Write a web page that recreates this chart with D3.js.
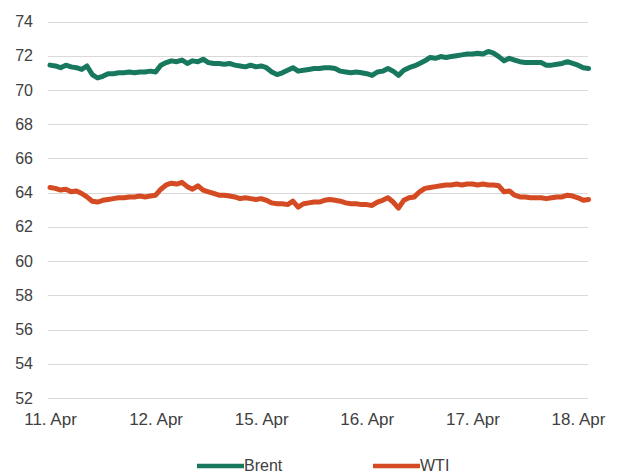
<!DOCTYPE html>
<html>
<head>
<meta charset="utf-8">
<script src="https://cdn.jsdelivr.net/npm/d3@7"></script>
<style>
  html, body { margin: 0; padding: 0; background: #fff; }
  svg { display: block; }
  text { font-family: "Liberation Sans", Arial, sans-serif; fill: #404040; }
</style>
</head>
<body>
<svg id="chart" width="623" height="476"></svg>
<script>
// Trading sessions shown on the x axis (0 = 11 Apr open)
const dayLabels = ["11. Apr", "12. Apr", "15. Apr", "16. Apr", "17. Apr", "18. Apr"];
const dayPositions = [0, 1, 2, 3, 4, 5];
// Intraday samples are taken every 1/20 of a session
const sampleStep = 0.05;

const yTicks = [52, 54, 56, 58, 60, 62, 64, 66, 68, 70, 72, 74];

const brent = [
  71.45, 71.40, 71.30, 71.45, 71.35, 71.30, 71.20, 71.40, 70.90, 70.70,
  70.80, 70.95, 70.95, 71.00, 71.00, 71.05, 71.00, 71.05, 71.05, 71.10,
  71.05, 71.45, 71.60, 71.70, 71.65, 71.75, 71.55, 71.70, 71.65, 71.80,
  71.60, 71.55, 71.55, 71.50, 71.55, 71.45, 71.40, 71.35, 71.45, 71.35,
  71.40, 71.30, 71.05, 70.90, 71.00, 71.15, 71.30, 71.10, 71.15, 71.20,
  71.25, 71.25, 71.30, 71.30, 71.25, 71.10, 71.05, 71.00, 71.05, 71.00,
  70.95, 70.85, 71.05, 71.10, 71.25, 71.10, 70.85, 71.15, 71.30, 71.40,
  71.55, 71.70, 71.90, 71.85, 71.95, 71.90, 71.95, 72.00, 72.05, 72.10,
  72.10, 72.15, 72.10, 72.25, 72.15, 71.95, 71.70, 71.85, 71.75, 71.65,
  71.60, 71.60, 71.60, 71.60, 71.45, 71.45, 71.50, 71.55, 71.65, 71.55,
  71.45, 71.30, 71.25
];

const wti = [
  64.30, 64.25, 64.15, 64.20, 64.05, 64.10, 63.95, 63.75, 63.50, 63.45,
  63.55, 63.60, 63.65, 63.70, 63.70, 63.75, 63.75, 63.80, 63.75, 63.80,
  63.85, 64.20, 64.45, 64.55, 64.50, 64.60, 64.35, 64.20, 64.40, 64.15,
  64.05, 63.95, 63.85, 63.85, 63.80, 63.75, 63.65, 63.70, 63.65, 63.60,
  63.65, 63.55, 63.40, 63.35, 63.35, 63.30, 63.50, 63.15, 63.35, 63.40,
  63.45, 63.45, 63.55, 63.60, 63.55, 63.50, 63.40, 63.35, 63.35, 63.30,
  63.30, 63.25, 63.45, 63.55, 63.70, 63.45, 63.10, 63.55, 63.70, 63.75,
  64.05, 64.25, 64.30, 64.35, 64.40, 64.45, 64.45, 64.50, 64.45, 64.50,
  64.50, 64.45, 64.50, 64.45, 64.45, 64.40, 64.05, 64.10, 63.85, 63.75,
  63.75, 63.70, 63.70, 63.70, 63.65, 63.70, 63.75, 63.75, 63.85, 63.80,
  63.70, 63.55, 63.60
];

const seriesNames = ["Brent", "WTI"];
const seriesColors = ["#17785e", "#d44a22"];

const svg = d3.select("#chart");

const x = d3.scaleLinear().domain([0, 5]).range([50, 578]);
const y = d3.scaleLinear().domain([52, 74]).range([398, 21.5]);
const gridLeft = 48, gridRight = 588;

// Horizontal gridlines
svg.append("g")
  .selectAll("line")
  .data(yTicks)
  .join("line")
  .attr("x1", gridLeft).attr("x2", gridRight)
  .attr("y1", d => Math.round(y(d)) + 0.5)
  .attr("y2", d => Math.round(y(d)) + 0.5)
  .attr("stroke", "#d9d9d9")
  .attr("stroke-width", 1);

// Y axis labels
const yAxis = d3.axisLeft(y).tickValues(yTicks).tickSize(0).tickPadding(0);
svg.append("g")
  .attr("transform", "translate(33,0)")
  .call(yAxis)
  .call(g => g.select(".domain").remove())
  .call(g => g.selectAll("text")
    .attr("font-size", 16)
    .attr("font-family", "Liberation Sans, Arial, sans-serif")
    .attr("fill", "#404040"));

// X axis labels
const xAxis = d3.axisBottom(x)
  .tickValues(dayPositions)
  .tickFormat((d, i) => dayLabels[i])
  .tickSize(0).tickPadding(0);
svg.append("g")
  .attr("transform", "translate(0,413)")
  .call(xAxis)
  .call(g => g.select(".domain").remove())
  .call(g => g.selectAll("text")
    .attr("font-size", 17)
    .attr("font-family", "Liberation Sans, Arial, sans-serif")
    .attr("fill", "#404040"));

// Price lines
const line = d3.line()
  .x((d, i) => x(i * sampleStep))
  .y(d => y(d));

[brent, wti].forEach((vals, k) => {
  svg.append("path")
    .datum(vals)
    .attr("d", line)
    .attr("fill", "none")
    .attr("stroke", seriesColors[k])
    .attr("stroke-width", 5)
    .attr("stroke-linejoin", "round")
    .attr("stroke-linecap", "round");
});

// Legend
const legendX = [197, 373];
const legend = svg.append("g");
seriesNames.forEach((name, k) => {
  legend.append("line")
    .attr("x1", legendX[k]).attr("x2", legendX[k] + 47)
    .attr("y1", 466).attr("y2", 466)
    .attr("stroke", seriesColors[k])
    .attr("stroke-width", 4.5);
  legend.append("text")
    .attr("x", legendX[k] + 47)
    .attr("y", 471)
    .attr("font-size", 16)
    .text(name);
});
</script>
</body>
</html>
